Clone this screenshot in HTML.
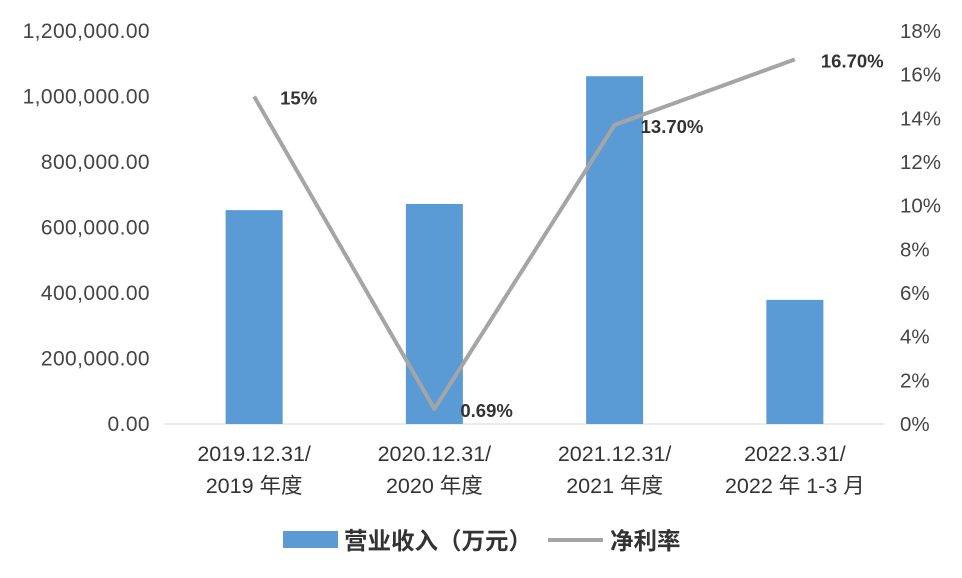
<!DOCTYPE html>
<html><head><meta charset="utf-8">
<style>
html,body{margin:0;padding:0;background:#fff;}
svg{display:block;font-family:"Liberation Sans","Noto Sans CJK SC",sans-serif;}
</style></head>
<body>
<svg id="chart" width="962" height="578" viewBox="0 0 962 578" xmlns="http://www.w3.org/2000/svg">
<rect width="962" height="578" fill="#fff"/>
<g id="axes"></g><g id="bars"></g><g id="line"></g><g id="labels"></g>
<g>
  <rect x="283" y="531" width="55" height="17" fill="#5b9bd5"/>
  <text x="344" y="549" font-size="23.5" font-weight="bold" fill="#333">营业收入（万元）</text>
  <line x1="548" y1="540" x2="603" y2="540" stroke="#a5a5a5" stroke-width="4"/>
  <text x="610" y="549" font-size="23.5" font-weight="bold" fill="#333">净利率</text>
</g>
</svg>
<script>
const categoriesLine1 = ["2019.12.31/","2020.12.31/","2021.12.31/","2022.3.31/"];
const categoriesLine2 = ["2019 年度","2020 年度","2021 年度","2022 年 1-3 月"];
const revenue = [653000, 672000, 1062000, 379000];
const margin = [15, 0.69, 13.7, 16.7];
const marginLabels = ["15%","0.69%","13.70%","16.70%"];
const leftTicks = [0,200000,400000,600000,800000,1000000,1200000];
const leftTickLabels = ["0.00","200,000.00","400,000.00","600,000.00","800,000.00","1,000,000.00","1,200,000.00"];
const rightTicks = [0,2,4,6,8,10,12,14,16,18];
const rightTickLabels = ["0%","2%","4%","6%","8%","10%","12%","14%","16%","18%"];

const NS="http://www.w3.org/2000/svg";
const y0=424, yTop=31, x0=164, x1=885;
const yL=v=>y0-(v/1200000)*(y0-yTop);
const yR=v=>y0-(v/18)*(y0-yTop);
const band=(x1-x0)/categoriesLine1.length;
const xC=i=>x0+band*(i+0.5);
function mk(tag,attrs,parent,txt){const e=document.createElementNS(NS,tag);for(const k in attrs)e.setAttribute(k,attrs[k]);if(txt!==undefined)e.textContent=txt;document.getElementById(parent).appendChild(e);return e;}

const axisLine=mk('line',{x1:x0,y1:y0,x2:x1,y2:y0,stroke:'#d9d9d9','stroke-width':1},'axes');


leftTicks.forEach((v,i)=>{
  const t=mk('text',{x:150,y:yL(v)+7,'text-anchor':'end','font-size':21,'letter-spacing':0.4,fill:'#444'},'axes',leftTickLabels[i]);
  
  
});
rightTicks.forEach((v,i)=>{
  const t=mk('text',{x:900,y:yR(v)+7,'font-size':20.5,fill:'#444'},'axes',rightTickLabels[i]);
  
  
});
categoriesLine1.forEach((c,i)=>{
  const t=mk('text',{x:xC(i),y:461,'text-anchor':'middle','font-size':21.5,fill:'#333'},'axes',c);
  
  
  const t2=mk('text',{x:xC(i),y:493,'text-anchor':'middle','font-size':21.5,fill:'#333'},'axes',categoriesLine2[i]);
  
  
});
const bw=57;
revenue.forEach((v,i)=>{
  const r=mk('rect',{x:xC(i)-bw/2,y:yL(v),width:bw,height:y0-yL(v),fill:'#5b9bd5'},'bars');
  
  
});
const pts=margin.map((v,i)=>xC(i)+','+yR(v)).join(' ');
const pl=mk('polyline',{points:pts,fill:'none',stroke:'#a5a5a5','stroke-width':4,'stroke-linejoin':'round'},'line');


margin.forEach((v,i)=>{
  const t=mk('text',{x:xC(i)+26,y:yR(v)+8,'font-size':18.5,'font-weight':'bold',fill:'#333'},'labels',marginLabels[i]);
  
  
});
</script>
</body></html>
